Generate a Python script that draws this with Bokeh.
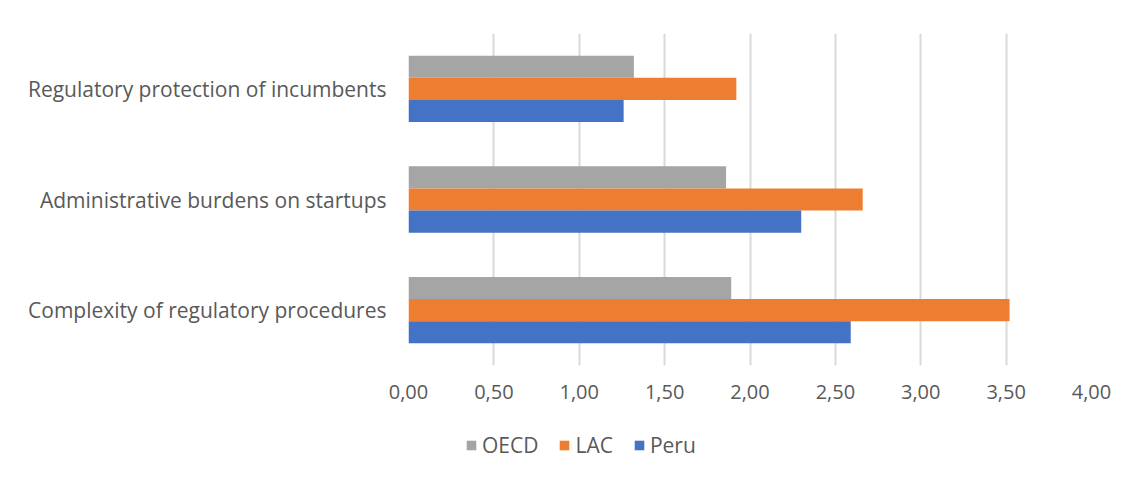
from bokeh.plotting import figure
from bokeh.layouts import column
from bokeh.models import ColumnDataSource, FactorRange, Range1d, Legend, LegendItem, FixedTicker, CustomJSTickFormatter
from bokeh.transform import dodge
from bokeh.embed import file_html
from bokeh.resources import INLINE

categories = ["Complexity of regulatory procedures",
              "Administrative burdens on startups",
              "Regulatory protection of incumbents"]
oecd = [1.89, 1.86, 1.32]
lac = [3.52, 2.66, 1.92]
peru = [2.59, 2.30, 1.26]
series_names = ["OECD", "LAC", "Peru"]
series_cols = ["oecd", "lac", "peru"]
series_colors = ["#A5A5A5", "#ED7D31", "#4472C4"]
x_ticks = [0.0, 0.5, 1.0, 1.5, 2.0, 2.5, 3.0, 3.5, 4.0]

src = ColumnDataSource(dict(cat=categories, oecd=oecd, lac=lac, peru=peru))

FONT = "Open Sans"
TXT = "#595959"

p = figure(width=1116, height=410, output_backend="svg", toolbar_location=None,
           y_range=FactorRange(factors=categories, range_padding=0),
           x_range=Range1d(0, 4.0))
p.min_border_left = 408
p.min_border_right = 25
p.min_border_top = 33
p.min_border_bottom = 45
p.outline_line_color = None
p.background_fill_color = "white"
p.border_fill_color = "white"

offsets = [0.2, 0.0, -0.2]
for col, off, colr in zip(series_cols, offsets, series_colors):
    p.hbar(y=dodge("cat", off, range=p.y_range), right=col, left=0, height=0.2,
           source=src, fill_color=colr, line_color=None)

p.xaxis.ticker = FixedTicker(ticks=x_ticks)
p.xaxis.formatter = CustomJSTickFormatter(code="return tick.toFixed(2).replace('.', ',');")
for ax in (p.xaxis[0], p.yaxis[0]):
    ax.axis_line_color = None
    ax.major_tick_line_color = None
    ax.minor_tick_line_color = None
    ax.major_label_text_font = FONT
    ax.major_label_text_color = TXT
p.xaxis.major_label_text_font_size = "20px"
p.yaxis.major_label_text_font_size = "21px"
p.xaxis.major_label_standoff = 13
p.yaxis.major_label_standoff = 16

p.xgrid.grid_line_color = "#D9D9D9"
p.xgrid.grid_line_width = 2
p.ygrid.grid_line_color = None

# legend strip (hidden proxy renderers carry the series styles)
p2 = figure(width=1116, height=56, output_backend="svg", toolbar_location=None,
            x_axis_type=None, y_axis_type=None,
            y_range=FactorRange(factors=categories), x_range=Range1d(0, 4.0))
p2.min_border = 0
p2.outline_line_color = None
p2.grid.grid_line_color = None
items = []
for name, col, colr in zip(series_names, series_cols, series_colors):
    r = p2.hbar(y="cat", right=col, left=0, height=0.2, source=src,
                fill_color=colr, line_color=None, visible=False)
    items.append(LegendItem(label=name, renderers=[r]))

legend = Legend(items=items, orientation="horizontal", location=(57, 7),
                glyph_width=12, glyph_height=12, label_standoff=5, spacing=20,
                padding=0, margin=0, border_line_color=None, background_fill_alpha=0,
                inactive_fill_alpha=0,
                label_text_font=FONT, label_text_font_size="21px", label_text_color=TXT)
p2.add_layout(legend, "center")

layout = column(p, p2, spacing=0)
open("out.html", "w").write(file_html(layout, INLINE))
